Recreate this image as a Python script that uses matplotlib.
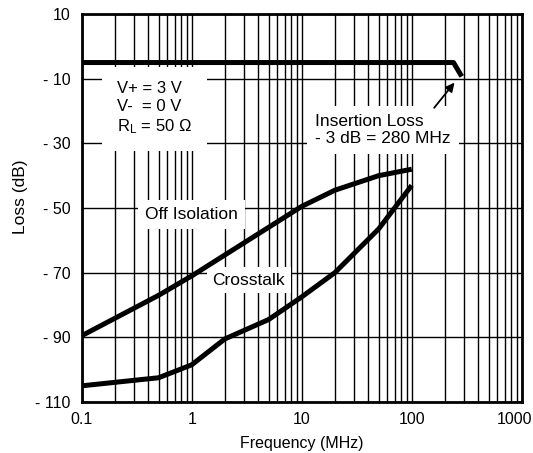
import matplotlib.pyplot as plt
from matplotlib.transforms import ScaledTranslation

plt.rcParams['font.family'] = ['Liberation Sans', 'DejaVu Sans']
plt.rcParams['mathtext.fontset'] = 'custom'
plt.rcParams['mathtext.rm'] = 'Liberation Sans'
plt.rcParams['mathtext.it'] = 'Liberation Sans:italic'

# values
ins_freq = [0.1, 240, 265, 285]
ins_loss = [-5, -5, -7.5, -9.3]

iso_freq = [0.1, 0.5, 1, 10, 20, 50, 100]
iso_loss = [-89.5, -77, -71, -49.5, -44.5, -40, -38]

xt_freq = [0.1, 0.5, 1, 2, 5, 10, 20, 50, 100]
xt_loss = [-105, -102.5, -98.5, -90.5, -84.5, -77.5, -70, -56.5, -43]

y_ticks = [10, -10, -30, -50, -70, -90, -110]
y_labels = ['10', '- 10', '- 30', '- 50', '- 70', '- 90', '- 110']
x_ticks = [0.1, 1, 10, 100, 1000]
x_labels = ['0.1', '1', '10', '100', '1000']

fig = plt.figure(figsize=(5.33, 4.53), dpi=100)
ax = fig.add_axes([0.1533, 0.1126, 0.8255, 0.8564])

ax.set_xscale('log')
ax.set_xlim(0.1, 1000)
ax.set_ylim(-110, 10)
ax.set_xticks(x_ticks)
ax.set_xticklabels(x_labels)
ax.set_yticks(y_ticks)
ax.set_yticklabels(y_labels)
ax.tick_params(which='both', length=0, labelsize=11.5)
ax.tick_params(axis='y', pad=8)
ax.tick_params(axis='x', pad=7)
ax.grid(True, which='major', color='black', lw=1.0)
ax.grid(True, which='minor', axis='x', color='black', lw=1.0)
for s in ax.spines.values():
    s.set_linewidth(2)

# pull the last label in so it stays on the page
last = ax.get_xticklabels()[-1]
last.set_transform(last.get_transform() + ScaledTranslation(-7 / 100, 0, fig.dpi_scale_trans))

lw = 3.6
ax.plot(ins_freq, ins_loss, color='black', lw=lw, solid_capstyle='butt', zorder=5)
ax.plot(iso_freq, iso_loss, color='black', lw=lw, solid_capstyle='butt', zorder=5)
ax.plot(xt_freq, xt_loss, color='black', lw=lw, solid_capstyle='butt', zorder=5)

box = dict(facecolor='white', edgecolor='none')
ax.text(0.21, -19.2, 'V+ = 3 V\nV-  = 0 V\nR$_\\mathrm{L}$ = 50 \u03a9', fontsize=12,
        ha='left', va='center', linespacing=1.24,
        bbox=dict(box, pad=11), zorder=4)
ax.text(1.0, -52, 'Off Isolation', fontsize=12.5, ha='center', va='center',
        bbox=dict(box, pad=5), zorder=4)
ax.text(3.3, -72.3, 'Crosstalk', fontsize=12.5, ha='center', va='center',
        bbox=dict(box, pad=4), zorder=4)
ax.text(13.3, -25.9, 'Insertion Loss\n- 3 dB = 280 MHz', fontsize=12.5,
        ha='left', va='center', linespacing=1.13,
        bbox=dict(box, pad=6), zorder=4)
ax.annotate('', xy=(245, -11.2), xytext=(160, -19),
            arrowprops=dict(arrowstyle='-|>', color='black', lw=1.3,
                            mutation_scale=13, shrinkA=0, shrinkB=0),
            zorder=6)

ax.set_xlabel('Frequency (MHz)', fontsize=11.5, labelpad=7)
ax.set_ylabel('Loss (dB)', fontsize=12.5)
ax.yaxis.set_label_coords(-0.121, 0.529)

fig.savefig('out.png', dpi=100)
